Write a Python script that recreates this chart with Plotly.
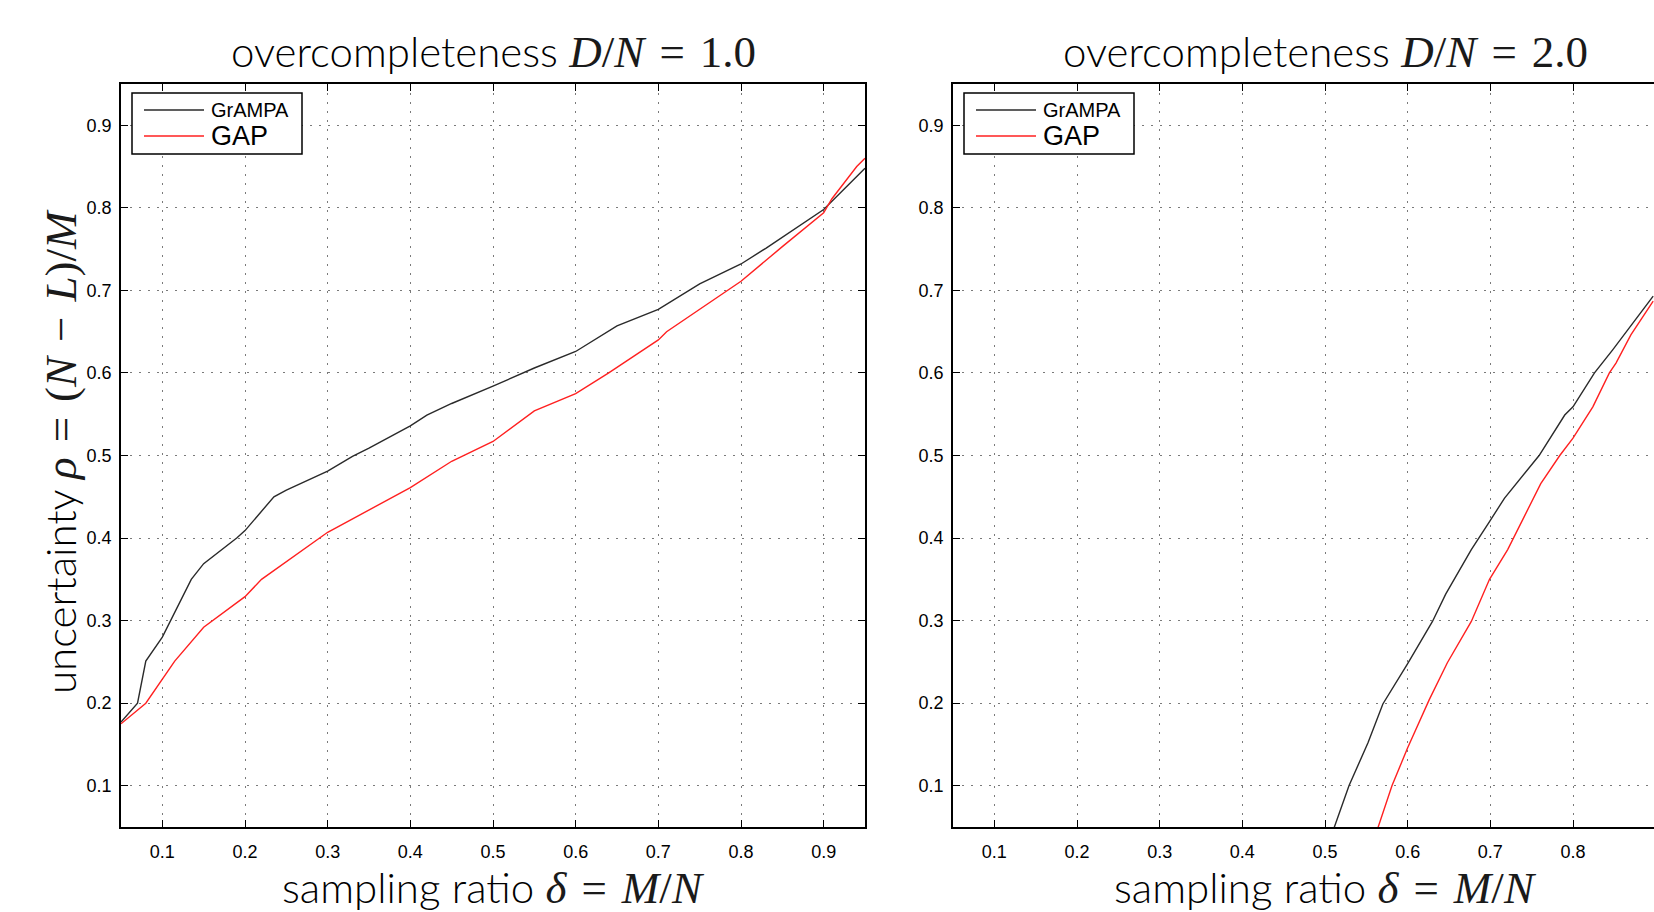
import plotly.graph_objects as go

# ---------------- data ----------------
# Left panel: D/N = 1.0
left_grampa_x = [0.05, 0.07, 0.08, 0.10, 0.135, 0.15, 0.19, 0.20, 0.235, 0.25, 0.30, 0.33, 0.35,
                 0.40, 0.42, 0.45, 0.50, 0.55, 0.60, 0.65, 0.70, 0.75, 0.80, 0.83, 0.90, 0.95]
left_grampa_y = [0.177, 0.200, 0.251, 0.280, 0.350, 0.369, 0.400, 0.409, 0.450, 0.458, 0.481, 0.499, 0.509,
                 0.536, 0.549, 0.563, 0.584, 0.606, 0.626, 0.657, 0.677, 0.708, 0.732, 0.751, 0.798, 0.848]
left_gap_x = [0.05, 0.08, 0.115, 0.15, 0.20, 0.22, 0.30, 0.35, 0.40, 0.45, 0.50, 0.55, 0.60,
              0.64, 0.70, 0.71, 0.75, 0.80, 0.85, 0.90, 0.91, 0.94, 0.95]
left_gap_y = [0.175, 0.200, 0.251, 0.292, 0.329, 0.350, 0.407, 0.434, 0.461, 0.493, 0.517, 0.554, 0.575,
              0.600, 0.640, 0.650, 0.677, 0.711, 0.753, 0.794, 0.811, 0.850, 0.860]

# Right panel: D/N = 2.0 (visible part only)
right_grampa_x = [0.511, 0.529, 0.552, 0.570, 0.600, 0.630, 0.646, 0.677, 0.699, 0.717, 0.759,
                  0.790, 0.800, 0.826, 0.848, 0.897]
right_grampa_y = [0.049, 0.100, 0.152, 0.199, 0.248, 0.299, 0.332, 0.386, 0.420, 0.448, 0.500,
                  0.549, 0.559, 0.600, 0.628, 0.693]
right_gap_x = [0.564, 0.581, 0.600, 0.626, 0.648, 0.677, 0.699, 0.721, 0.741, 0.761, 0.784,
               0.800, 0.824, 0.844, 0.852, 0.870, 0.897]
right_gap_y = [0.049, 0.100, 0.146, 0.204, 0.249, 0.299, 0.350, 0.386, 0.426, 0.466, 0.500,
               0.521, 0.559, 0.600, 0.612, 0.646, 0.687]

tick_vals = [0.1, 0.2, 0.3, 0.4, 0.5, 0.6, 0.7, 0.8, 0.9]
tick_text = ["0.1", "0.2", "0.3", "0.4", "0.5", "0.6", "0.7", "0.8", "0.9"]
series_names = ["GrAMPA", "GAP"]
series_colors = ["#2a2a2a", "#ff2020"]
titles = ["1.0", "2.0"]

# ---------------- layout geometry ----------------
W, H = 1654, 912
L_left, L_right = 121, 865          # left panel pixel extents
R_left, R_right = 953, 1654         # right panel (clipped at image edge)
P_top, P_bot = 84, 827
unit = (L_right - L_left) / 0.9     # pixels per data unit

SERIF = "Liberation Serif"
SANS = "Lato"
TICKF = "Liberation Sans"
SP = "\u2004"  # wider math spacing around '='


def math(s):
    return ("<span style=\"font-family:%s;font-size:45px;font-weight:400;fill:#1a1a1a\">%s</span>"
            % (SERIF, s))


fig = go.Figure()
for xs, ys, nm, col, xa, ya in [
    (left_grampa_x, left_grampa_y, series_names[0], series_colors[0], "x", "y"),
    (left_gap_x, left_gap_y, series_names[1], series_colors[1], "x", "y"),
    (right_grampa_x, right_grampa_y, series_names[0], series_colors[0], "x2", "y2"),
    (right_gap_x, right_gap_y, series_names[1], series_colors[1], "x2", "y2"),
]:
    fig.add_trace(go.Scatter(x=xs, y=ys, mode="lines", name=nm, xaxis=xa, yaxis=ya,
                             line=dict(color=col, width=1.4), showlegend=False,
                             cliponaxis=True))

axis_common = dict(
    tickvals=tick_vals, ticktext=tick_text, ticks="inside", ticklen=7, tickwidth=1.2,
    tickcolor="black", showline=True, linecolor="black", linewidth=1.6,
    showgrid=True, gridcolor="#7a7a7a", gridwidth=1, griddash="2px,7px",
    zeroline=False, tickfont=dict(family=TICKF, size=18, color="black"),
)

yd = [1 - P_bot / H, 1 - P_top / H]
fig.update_layout(
    width=W, height=H, margin=dict(l=0, r=0, t=0, b=0),
    paper_bgcolor="white", plot_bgcolor="white",
    xaxis=dict(domain=[L_left / W, L_right / W], range=[0.05, 0.95], anchor="y",
               mirror="ticks", ticklabelstandoff=8, **axis_common),
    yaxis=dict(domain=yd, range=[0.05, 0.95], anchor="x", mirror="ticks",
               ticklabelstandoff=4, **axis_common),
    xaxis2=dict(domain=[R_left / W, R_right / W],
                range=[0.05, 0.05 + (R_right - R_left) / unit], anchor="y2",
                mirror="ticks", ticklabelstandoff=8, **axis_common),
    yaxis2=dict(domain=yd, range=[0.05, 0.95], anchor="x2", mirror=False,
                ticklabelstandoff=4, **axis_common),
)

annotations = []
shapes = []
lbl_font = dict(family=SANS, size=42, color="black", weight=300)
for i, (pl, title) in enumerate(zip([L_left, R_left], titles)):
    cx = (pl + unit * 0.45) / W
    annotations.append(dict(
        xref="paper", yref="paper", x=cx, y=1 - 52 / H, xanchor="center", yanchor="middle",
        showarrow=False, font=lbl_font,
        text="overcompleteness " + math("<i>D</i>/<i>N</i>" + SP + "=" + SP + title)))
    annotations.append(dict(
        xref="paper", yref="paper", x=cx, y=1 - 887 / H, xanchor="center", yanchor="middle",
        showarrow=False, font=lbl_font,
        text="sampling ratio " + math("<i>δ</i>" + SP + "=" + SP + "<i>M</i>/<i>N</i>")))
    # legend box (pixel offsets inside the panel)
    pw = (L_right - L_left) if i == 0 else (R_right - R_left)
    xr = "x domain" if i == 0 else "x2 domain"
    yr = "y domain" if i == 0 else "y2 domain"
    ph = P_bot - P_top

    def fx(px):
        return px / pw

    def fy(py):
        return (P_bot - (P_top + py)) / ph

    shapes.append(dict(type="rect", xref=xr, yref=yr, x0=fx(11), x1=fx(181), y0=fy(70), y1=fy(9),
                       line=dict(color="black", width=1.5), fillcolor="white", layer="above"))
    for j, (nm, col, yy, fs) in enumerate(zip(series_names, series_colors, [26, 52], [20, 27])):
        shapes.append(dict(type="line", xref=xr, yref=yr, x0=fx(23), x1=fx(83), y0=fy(yy), y1=fy(yy),
                           line=dict(color=col, width=1.4), layer="above"))
        annotations.append(dict(xref=xr, yref=yr, x=fx(88), y=fy(yy), xanchor="left", yanchor="middle",
                                showarrow=False, text=nm,
                                font=dict(family=TICKF, size=fs, color="black")))

annotations.append(dict(
    xref="paper", yref="paper", x=60 / W, y=1 - 452 / H, xanchor="center", yanchor="middle",
    textangle=-90, showarrow=False, font=lbl_font,
    text="uncertainty " + math("<i>ρ</i>" + SP + "=" + SP + "(<i>N</i>" + SP + "−" + SP + "<i>L</i>)/<i>M</i>")))

fig.update_layout(annotations=annotations, shapes=shapes)

fig.write_html("out.html", config={"displayModeBar": False},
               post_script="document.body.style.margin='0';document.body.style.overflow='hidden';")
